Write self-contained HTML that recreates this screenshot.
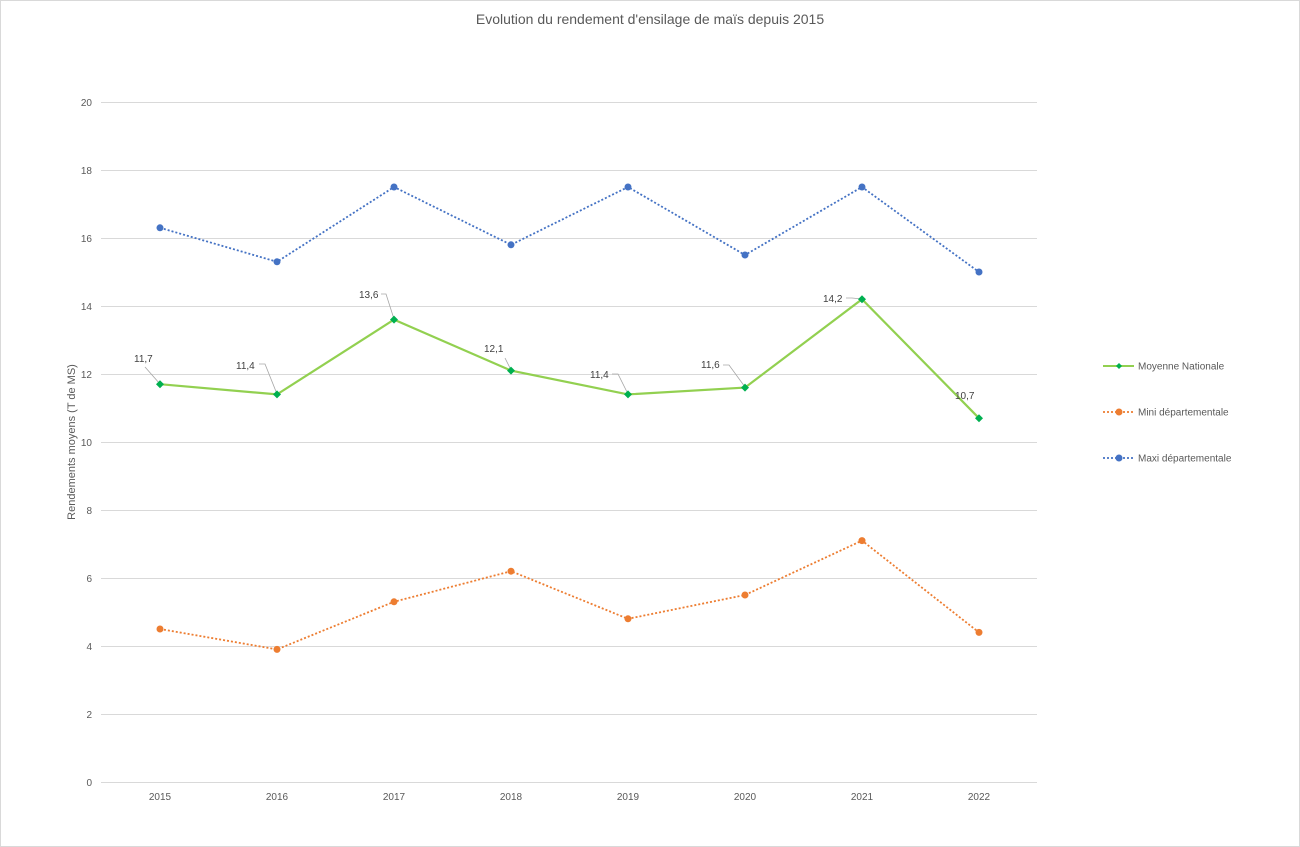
<!DOCTYPE html>
<html><head><meta charset="utf-8"><style>
html,body{margin:0;padding:0;background:#fff;}
svg{display:block;font-family:"Liberation Sans",sans-serif;}
</style></head><body>
<svg width="1300" height="847" viewBox="0 0 1300 847">
<rect x="0.5" y="0.5" width="1299" height="846" fill="#fff" stroke="#d9d9d9"/>
<text x="650" y="24" text-anchor="middle" font-size="14" fill="#595959">Evolution du rendement d'ensilage de maïs depuis 2015</text>
<g stroke="#d9d9d9" stroke-width="1">
<line x1="101" x2="1037" y1="102.5" y2="102.5"/><line x1="101" x2="1037" y1="170.5" y2="170.5"/>
<line x1="101" x2="1037" y1="238.5" y2="238.5"/><line x1="101" x2="1037" y1="306.5" y2="306.5"/>
<line x1="101" x2="1037" y1="374.5" y2="374.5"/><line x1="101" x2="1037" y1="442.5" y2="442.5"/>
<line x1="101" x2="1037" y1="510.5" y2="510.5"/><line x1="101" x2="1037" y1="578.5" y2="578.5"/>
<line x1="101" x2="1037" y1="646.5" y2="646.5"/><line x1="101" x2="1037" y1="714.5" y2="714.5"/>
<line x1="101" x2="1037" y1="782.5" y2="782.5"/>
</g>
<g font-size="10" fill="#595959" text-anchor="end">
<text x="92" y="106">20</text><text x="92" y="174">18</text><text x="92" y="242">16</text><text x="92" y="310">14</text>
<text x="92" y="378">12</text><text x="92" y="446">10</text><text x="92" y="514">8</text><text x="92" y="582">6</text>
<text x="92" y="650">4</text><text x="92" y="718">2</text><text x="92" y="786">0</text>
</g>
<g font-size="10" fill="#595959" text-anchor="middle">
<text x="160" y="800">2015</text><text x="277" y="800">2016</text><text x="394" y="800">2017</text><text x="511" y="800">2018</text>
<text x="628" y="800">2019</text><text x="745" y="800">2020</text><text x="862" y="800">2021</text><text x="979" y="800">2022</text>
</g>
<text transform="translate(75,442) rotate(-90)" text-anchor="middle" font-size="11" fill="#595959">Rendements moyens (T de MS)</text>
<polyline fill="none" stroke="#4472c4" stroke-width="1.8" stroke-dasharray="2,2" points="160,227.8 277,261.8 394,187 511,244.8 628,187 745,255 862,187 979,272"/>
<g fill="#4472c4"><circle cx="160" cy="227.8" r="3.5"/><circle cx="277" cy="261.8" r="3.5"/><circle cx="394" cy="187" r="3.5"/><circle cx="511" cy="244.8" r="3.5"/><circle cx="628" cy="187" r="3.5"/><circle cx="745" cy="255" r="3.5"/><circle cx="862" cy="187" r="3.5"/><circle cx="979" cy="272" r="3.5"/></g>
<polyline fill="none" stroke="#ed7d31" stroke-width="1.8" stroke-dasharray="2,2" points="160,629 277,649.4 394,601.8 511,571.2 628,618.8 745,595 862,540.6 979,632.4"/>
<g fill="#ed7d31"><circle cx="160" cy="629" r="3.5"/><circle cx="277" cy="649.4" r="3.5"/><circle cx="394" cy="601.8" r="3.5"/><circle cx="511" cy="571.2" r="3.5"/><circle cx="628" cy="618.8" r="3.5"/><circle cx="745" cy="595" r="3.5"/><circle cx="862" cy="540.6" r="3.5"/><circle cx="979" cy="632.4" r="3.5"/></g>
<g fill="none" stroke="#a6a6a6" stroke-width="0.8">
<polyline points="145,367 160,384"/>
<polyline points="259,364 265,364 277,394"/>
<polyline points="381,294 386,294 394,319"/>
<polyline points="505,358 511,370"/>
<polyline points="612,374 618,374 628,394"/>
<polyline points="723,365 729,365 745,387"/>
<polyline points="846,298 852,298 862,299"/>
</g>
<polyline fill="none" stroke="#92d050" stroke-width="2.2" points="160,384.2 277,394.4 394,319.6 511,370.6 628,394.4 745,387.6 862,299.2 979,418.2"/>
<g fill="#00b050">
<path d="M160 380.2l4 4-4 4-4-4z"/><path d="M277 390.4l4 4-4 4-4-4z"/><path d="M394 315.6l4 4-4 4-4-4z"/><path d="M511 366.6l4 4-4 4-4-4z"/>
<path d="M628 390.4l4 4-4 4-4-4z"/><path d="M745 383.6l4 4-4 4-4-4z"/><path d="M862 295.2l4 4-4 4-4-4z"/><path d="M979 414.2l4 4-4 4-4-4z"/>
</g>
<g font-size="10" fill="#404040">
<text x="134" y="362">11,7</text><text x="236" y="369">11,4</text><text x="359" y="298">13,6</text><text x="484" y="352">12,1</text>
<text x="590" y="378">11,4</text><text x="701" y="368">11,6</text><text x="823" y="302">14,2</text><text x="955" y="399">10,7</text>
</g>
<line x1="1103" x2="1134" y1="366" y2="366" stroke="#92d050" stroke-width="2"/><path d="M1119 363l3 3-3 3-3-3z" fill="#00b050"/>
<line x1="1103" x2="1134" y1="412" y2="412" stroke="#ed7d31" stroke-width="1.8" stroke-dasharray="2,2"/><circle cx="1119" cy="412" r="3.5" fill="#ed7d31"/>
<line x1="1103" x2="1134" y1="458" y2="458" stroke="#4472c4" stroke-width="1.8" stroke-dasharray="2,2"/><circle cx="1119" cy="458" r="3.5" fill="#4472c4"/>
<g font-size="10" fill="#595959">
<text x="1138" y="369.5">Moyenne Nationale</text><text x="1138" y="415.5">Mini départementale</text><text x="1138" y="461.5">Maxi départementale</text>
</g>
</svg>
</body></html>
